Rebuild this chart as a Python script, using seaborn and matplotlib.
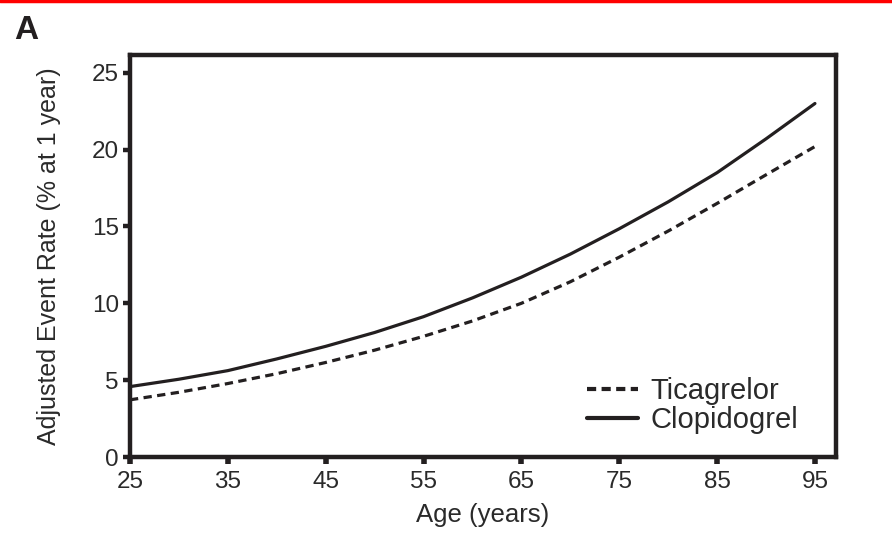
import matplotlib
matplotlib.use("Agg")
import matplotlib.pyplot as plt
from matplotlib.lines import Line2D
import seaborn as sns
import pandas as pd

# Adjusted 1-year event rates by age
ages = [25, 30, 35, 40, 45, 50, 55, 60, 65, 70, 75, 80, 85, 90, 95]
ticagrelor = [3.72, 4.21, 4.78, 5.42, 6.15, 6.95, 7.85, 8.85, 10.0, 11.4,
              13.0, 14.7, 16.5, 18.36, 20.2]
clopidogrel = [4.58, 5.06, 5.62, 6.38, 7.2, 8.1, 9.13, 10.35, 11.7, 13.2,
               14.85, 16.6, 18.5, 20.7, 23.0]
series_names = ["Ticagrelor", "Clopidogrel"]
x_ticks = [25, 35, 45, 55, 65, 75, 85, 95]
y_ticks = [0, 5, 10, 15, 20, 25]

df = pd.DataFrame({
    "Age": ages * 2,
    "Rate": ticagrelor + clopidogrel,
    "Treatment": [series_names[0]] * len(ages) + [series_names[1]] * len(ages),
})

sns.set_theme(style="ticks")
plt.rcParams["font.family"] = ["Liberation Sans", "DejaVu Sans"]
ink = "#231f20"
text_c = "#2a2a2a"

fig = plt.figure(figsize=(8.92, 5.40), dpi=100)
ax = fig.add_axes([0.1457, 0.1537, 0.7915, 0.7443])

sns.lineplot(
    data=df, x="Age", y="Rate", hue="Treatment", style="Treatment",
    palette={series_names[0]: ink, series_names[1]: ink},
    dashes={series_names[0]: (2.6, 1.7), series_names[1]: ""},
    linewidth=2.3, ax=ax, legend=False,
)

ax.set_xlim(25, 97.15)
ax.set_ylim(0, 26.15)
ax.set_xticks(x_ticks)
ax.set_yticks(y_ticks)
ax.tick_params(axis="x", direction="out", length=5, width=4, color=ink,
               labelsize=17.5, labelcolor=text_c, pad=5)
ax.tick_params(axis="y", direction="out", length=5, width=3.2, color=ink,
               labelsize=17.5, labelcolor=text_c, pad=3)
for s in ax.spines.values():
    s.set_visible(True)
    s.set_linewidth(3.2)
    s.set_color(ink)

ax.set_xlabel("Age (years)", fontsize=18.5, color=text_c, labelpad=7)
ax.set_ylabel("Adjusted Event Rate (% at 1 year)", fontsize=18, color=text_c,
              labelpad=22)

handles = [
    Line2D([], [], color=ink, lw=3.0, dashes=(2.2, 1.3)),
    Line2D([], [], color=ink, lw=3.0),
]
leg = ax.legend(handles, series_names, loc="center left", frameon=False,
                fontsize=21, handlelength=1.75, handletextpad=0.42,
                labelspacing=0.02, borderpad=0, borderaxespad=0,
                bbox_to_anchor=(587 / 892, 1 - 405.5 / 540),
                bbox_transform=fig.transFigure)
for t in leg.get_texts():
    t.set_color(text_c)

# panel letter and top rule
fig.text(14 / 892, 1 - 15 / 540, "A", fontsize=24, fontweight="bold",
         color=ink, va="top", ha="left")
fig.add_artist(Line2D([0, 1], [0.998, 0.998], transform=fig.transFigure,
                      color="#ff0000", lw=2.5))

fig.savefig("out.png", dpi=100, facecolor="white")
